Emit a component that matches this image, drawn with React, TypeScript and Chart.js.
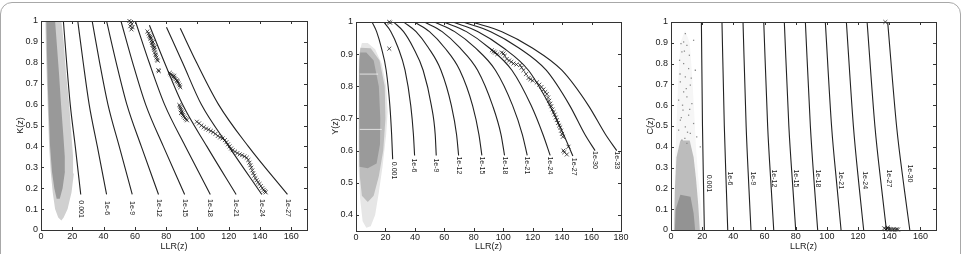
import React, { useEffect, useRef } from "react";
import { Chart, registerables } from "chart.js";
Chart.register(...registerables);

const FONT = "'Liberation Sans', Arial, Helvetica, sans-serif";
const INK = "#1a1a1a";

// ================= Panel 1 : K(z) =================
const P1_LABELS = ["0.001", "1e-6", "1e-9", "1e-12", "1e-15", "1e-18", "1e-21", "1e-24", "1e-27"];
const P1_TOP_Y = [1, 1, 1, 1, 1, 1, 0.98, 0.97, 0.965];
const P1_LEVELS_Y = [0.8, 0.6, 0.4, 0.17];
const P1_CURVES_X = [
  [14.3, 16.4, 18.7, 21.9, 25.4],
  [23.5, 27.0, 30.8, 36.0, 41.9],
  [32.7, 37.5, 42.8, 50.0, 58.3],
  [41.9, 48.1, 54.9, 64.1, 75.1],
  [51.1, 58.6, 66.9, 78.2, 91.8],
  [60.3, 69.2, 79.0, 92.3, 108.2],
  [69.3, 79.0, 90.5, 106.0, 124.7],
  [80.2, 90.5, 102.5, 120.0, 141.1],
  [89.0, 99.5, 113.5, 132.5, 157.5],
];
const P1_LABEL_X = [25.4, 41.9, 58.3, 75.1, 91.8, 108.2, 124.7, 141.1, 157.5];
const P1_LABEL_Y = [0.1, 0.105, 0.105, 0.105, 0.105, 0.105, 0.105, 0.105, 0.105];
const P1_MARK_X = [
  56.5, 57.5, 58, 57, 58.5, 57.8,
  68, 68.8, 69.2, 69.8, 70, 70.6, 70.9, 71.2, 71.8, 72, 72.4, 72.8, 73.1, 73.5, 73.8, 74.2, 74.6, 70.2, 71.5, 72.6,
  75, 75.3,
  82.3, 83, 83.8, 84.6, 85.3, 86, 86.8, 87.4, 88, 88.6, 89, 85, 87,
  88.4, 88.8, 89.2, 89.6, 90, 90.4, 90.8, 91.3, 92, 92.7, 93.3, 89.5,
  99.6, 101, 102.5, 104, 105.5, 107, 108.5, 110, 111.5, 113, 114.5, 116, 117.5, 118.5, 119.5, 120.5, 121.5, 122.5,
  124, 125.5, 127, 128.5, 130, 131.5, 132.5, 133.2, 133.8, 134.4, 135, 135.6, 136.3, 137, 137.8, 138.7, 139.6,
  140.5, 141.4, 142.3, 143, 143.6,
];
const P1_MARK_Y = [
  1.0, 0.995, 0.985, 0.975, 0.97, 0.96,
  0.95, 0.94, 0.93, 0.925, 0.915, 0.905, 0.895, 0.885, 0.88, 0.87, 0.862, 0.85, 0.84, 0.835, 0.825, 0.815, 0.81, 0.92, 0.9, 0.875,
  0.765, 0.76,
  0.752, 0.745, 0.74, 0.733, 0.728, 0.722, 0.716, 0.708, 0.7, 0.692, 0.683, 0.738, 0.712,
  0.598, 0.59, 0.582, 0.574, 0.566, 0.558, 0.55, 0.543, 0.536, 0.53, 0.525, 0.56,
  0.518, 0.51, 0.5, 0.492, 0.485, 0.48, 0.474, 0.468, 0.46, 0.45, 0.443, 0.438, 0.43, 0.42, 0.41, 0.4, 0.39, 0.382,
  0.375, 0.368, 0.362, 0.358, 0.352, 0.346, 0.335, 0.322, 0.31, 0.298, 0.285, 0.272, 0.26, 0.248, 0.238, 0.228, 0.22,
  0.21, 0.2, 0.192, 0.185, 0.18,
];
const P1_CLOUD_OUTER_X = [2.8, 3.2, 3.8, 4.5, 5.2, 6.2, 7.5, 9.0, 11.0, 13.0, 14.5, 17.0, 19.5, 21.0, 20.5, 19.5, 18.0, 16.0, 14.5, 13.0];
const P1_CLOUD_OUTER_Y = [1.0, 0.85, 0.7, 0.55, 0.4, 0.28, 0.18, 0.1, 0.06, 0.045, 0.06, 0.1, 0.18, 0.27, 0.35, 0.45, 0.6, 0.75, 0.9, 1.0];
const P1_CLOUD_CORE_X = [3.4, 3.8, 4.3, 5.0, 5.8, 7.0, 8.5, 10.0, 12.0, 13.8, 15.3, 15.2, 14.3, 12.8, 11.5, 10.0, 9.0];
const P1_CLOUD_CORE_Y = [1.0, 0.85, 0.7, 0.55, 0.4, 0.28, 0.2, 0.15, 0.15, 0.2, 0.28, 0.35, 0.45, 0.6, 0.75, 0.9, 1.0];

// ================= Panel 2 : Y(z) =================
const P2_LABELS = ["0.001", "1e-6", "1e-9", "1e-12", "1e-15", "1e-18", "1e-21", "1e-24", "1e-27", "1e-30", "1e-33"];
const P2_LEVELS_Y = [1, 0.97, 0.92, 0.85, 0.74, 0.65];
const P2_END_Y = [0.573, 0.585, 0.585, 0.585, 0.585, 0.585, 0.585, 0.585, 0.583, 0.6, 0.6];
const P2_CURVES_X = [
  [10.9, 14.0, 17.2, 20.5, 23.0, 24.2, 24.9],
  [18.8, 23.7, 28.6, 33.3, 37.2, 39.0, 39.8],
  [25.6, 32.3, 38.9, 45.6, 51.2, 53.8, 54.5],
  [32.4, 40.8, 49.2, 57.7, 64.8, 68.3, 69.7],
  [39.6, 49.9, 60.2, 70.5, 79.2, 83.5, 85.5],
  [46.4, 58.5, 70.5, 82.6, 92.8, 98.5, 100.9],
  [53.2, 67.0, 80.9, 94.7, 106.4, 113.0, 116.3],
  [59.5, 75.0, 90.4, 105.9, 119.0, 127.0, 131.9],
  [65.8, 82.9, 100.0, 117.1, 131.6, 141.0, 147.3],
  [72.6, 91.5, 110.4, 129.2, 145.2, 155.5, 162.4],
  [78.7, 99.1, 119.5, 139.8, 157.9, 169.5, 177.1],
];
const P2_LABEL_X = [25.9, 39.6, 54.5, 69.7, 85.5, 100.9, 116.3, 131.9, 148.0, 162.4, 177.1];
const P2_LABEL_Y = [0.538, 0.554, 0.554, 0.554, 0.554, 0.554, 0.554, 0.554, 0.55, 0.571, 0.57];
const P2_MARK_X = [
  22.6, 23.2, 22.6,
  92.3, 93.5, 94.5, 96, 99, 100.2, 101, 102.4, 104, 105.5, 107, 109, 111.5, 112.5, 113.8, 115.5, 117.2, 118.5, 120,
  122.8, 124.5, 126, 127.3, 128.5, 129.6, 130.5, 131.2, 131.9, 132.6, 133.4, 134.2, 135, 135.7, 136.4, 137.2, 138,
  138.7, 139.3, 139.9, 140.5, 140.9, 141.5, 143.2, 144.3,
];
const P2_MARK_Y = [
  1.0, 0.998, 0.917,
  0.912, 0.908, 0.905, 0.9, 0.905, 0.902, 0.895, 0.885, 0.88, 0.876, 0.871, 0.868, 0.866, 0.858, 0.85, 0.838, 0.826, 0.822, 0.818,
  0.812, 0.805, 0.798, 0.79, 0.782, 0.776, 0.765, 0.755, 0.746, 0.738, 0.728, 0.72, 0.712, 0.703, 0.695, 0.686, 0.678,
  0.672, 0.662, 0.652, 0.643, 0.6, 0.595, 0.588, 0.612,
];
const P2_CLOUD_FAINT_X = [4.0, 2.0, 1.6, 1.8, 2.8, 4.5, 7.0, 10.0, 13.0, 15.5, 18.0, 20.5, 21.5, 20.5, 17.5, 13.0, 8.0];
const P2_CLOUD_FAINT_Y = [0.935, 0.9, 0.75, 0.55, 0.45, 0.38, 0.36, 0.365, 0.4, 0.47, 0.55, 0.65, 0.72, 0.8, 0.87, 0.915, 0.935];
const P2_CLOUD_MID_X = [3.0, 2.0, 2.0, 2.6, 4.0, 8.0, 12.0, 15.5, 18.5, 20.0, 19.5, 16.0, 10.0];
const P2_CLOUD_MID_Y = [0.92, 0.88, 0.62, 0.52, 0.46, 0.44, 0.46, 0.52, 0.6, 0.7, 0.8, 0.88, 0.918];
const P2_CLOUD_CORE_X = [2.8, 2.2, 2.2, 2.6, 8.0, 14.0, 16.3, 16.5, 15.5, 12.0, 7.0];
const P2_CLOUD_CORE_Y = [0.905, 0.85, 0.6, 0.55, 0.545, 0.56, 0.62, 0.7, 0.8, 0.88, 0.905];
const P2_GAPS_Y = [0.838, 0.666];
const P2_GAPS_X1 = [15, 17.5];

// ================= Panel 3 : C(z) =================
const P3_LABELS = ["0.001", "1e-6", "1e-9", "1e-12", "1e-15", "1e-18", "1e-21", "1e-24", "1e-27", "1e-30"];
const P3_LEVELS_Y = [1, 0.5, 0.2, 0];
const P3_CURVES_X = [
  [19.5, 20.2, 20.9, 21.4],
  [32.7, 34.2, 35.5, 36.4],
  [46.2, 48.2, 50.0, 51.3],
  [59.5, 62.0, 64.3, 65.9],
  [72.7, 75.6, 78.2, 80.0],
  [86.2, 89.4, 92.1, 94.1],
  [99.0, 103.0, 106.6, 109.1],
  [112.5, 117.0, 120.8, 123.6],
  [125.8, 130.8, 135.1, 138.2],
  [139.0, 144.7, 149.6, 153.2],
];
const P3_LABEL_X = [24.6, 38.1, 52.6, 66.3, 80.2, 94.1, 109.1, 124.7, 139.7, 153.6];
const P3_LABEL_Y = [0.224, 0.248, 0.248, 0.248, 0.248, 0.248, 0.24, 0.24, 0.248, 0.272];
const P3_MARK_X = [137.5, 136.8, 137.8, 138.8, 139.8, 140.8, 141.8, 142.8, 143.8, 144.8, 145.6, 139];
const P3_MARK_Y = [1.0, 0.008, 0.004, 0.006, 0.003, 0.004, 0.002, 0.003, 0.002, 0.003, 0.002, 0.012];
const P3_CLOUD_FAINT_X = [1.5, 20.5, 19.5, 17.5, 16.0, 15.0, 13.5, 12.0, 9.0, 6.0, 4.5, 3.5, 2.5, 1.8];
const P3_CLOUD_FAINT_Y = [0.0, 0.0, 0.1, 0.25, 0.4, 0.55, 0.75, 0.9, 0.96, 0.9, 0.7, 0.5, 0.3, 0.1];
const P3_CLOUD_MID_X = [2.0, 18.5, 17.5, 16.0, 14.5, 12.0, 6.0, 3.5, 2.5];
const P3_CLOUD_MID_Y = [0.0, 0.0, 0.12, 0.25, 0.35, 0.43, 0.43, 0.35, 0.2];
const P3_CLOUD_CORE_X = [2.5, 15.5, 14.5, 12.5, 6.0, 3.0];
const P3_CLOUD_CORE_Y = [0.0, 0.0, 0.08, 0.16, 0.17, 0.1];
const P3_DOTS_X = [9.2, 8.1, 6.4, 10.2, 14.5, 7.0, 5.5, 8.1, 11.3, 15.6, 9.2, 6.0, 12.4, 8.1, 10.2, 4.9, 13.4, 7.7, 11.3, 6.0, 14.5, 9.2, 4.9, 12.4, 16.5, 18.8, 7.0, 10.2, 8.6, 11.8, 5.8, 13.0, 9.8, 7.4, 12.0, 6.6, 10.6, 8.9];
const P3_DOTS_Y = [0.944, 0.904, 0.896, 0.888, 0.912, 0.856, 0.816, 0.8, 0.776, 0.768, 0.736, 0.712, 0.696, 0.664, 0.64, 0.624, 0.608, 0.576, 0.552, 0.528, 0.512, 0.496, 0.48, 0.464, 0.448, 0.4, 0.432, 0.416, 0.86, 0.84, 0.75, 0.73, 0.68, 0.6, 0.58, 0.54, 0.47, 0.44];

// ================= helpers =================
const pts = (xs: number[], ys: number[]) => xs.map((x, i) => ({ x, y: ys[i] }));

const curveSet = (xs: number[], ys: number[]) => ({
  data: pts(xs, ys),
  borderColor: "#222",
  borderWidth: 1.1,
  pointRadius: 0,
  fill: false,
  cubicInterpolationMode: "monotone",
});
const markSet = (xs: number[], ys: number[]) => ({
  data: pts(xs, ys),
  showLine: false,
  pointStyle: "crossRot",
  pointRadius: 2.8,
  pointBorderWidth: 0.9,
  pointBorderColor: "rgba(15,15,15,0.8)",
  pointBackgroundColor: "rgba(0,0,0,0)",
  borderColor: "rgba(15,15,15,0.8)",
  clip: false,
});
const cloudSet = (xs: number[], ys: number[], color: string) => ({
  data: pts(xs, ys),
  borderWidth: 0,
  borderColor: "rgba(0,0,0,0)",
  pointRadius: 0,
  backgroundColor: color,
  fill: "shape",
  tension: 0,
});
const dotSet = (xs: number[], ys: number[]) => ({
  data: pts(xs, ys),
  showLine: false,
  pointStyle: "rect",
  pointRadius: 0.9,
  pointBorderWidth: 0,
  pointBackgroundColor: "#8a8a8a",
});
const hLineSet = (y: number, x0: number, x1: number) => ({
  data: [{ x: x0, y }, { x: x1, y }],
  borderColor: "rgba(255,255,255,0.7)",
  borderWidth: 1,
  pointRadius: 0,
  fill: false,
});

const matlabAxes = {
  id: "matlabAxes",
  afterDatasetsDraw(chart: any) {
    const { ctx, chartArea: a, scales } = chart;
    const xs = scales.x, ys = scales.y;
    ctx.save();
    ctx.strokeStyle = "#333";
    ctx.lineWidth = 1;
    ctx.beginPath();
    for (const t of xs.ticks) {
      const p = Math.round(xs.getPixelForValue(t.value)) + 0.5;
      ctx.moveTo(p, a.bottom); ctx.lineTo(p, a.bottom - 3);
      ctx.moveTo(p, a.top); ctx.lineTo(p, a.top + 3);
    }
    for (const t of ys.ticks) {
      const p = Math.round(ys.getPixelForValue(t.value)) + 0.5;
      ctx.moveTo(a.left, p); ctx.lineTo(a.left + 3, p);
      ctx.moveTo(a.right, p); ctx.lineTo(a.right - 3, p);
    }
    ctx.stroke();
    ctx.strokeRect(Math.round(a.left) + 0.5, Math.round(a.top) + 0.5, Math.round(a.right - a.left), Math.round(a.bottom - a.top));
    ctx.restore();
  },
};

const labelPlugin = (texts: string[], lx: number[], ly: number[]) => ({
  id: "curveLabels",
  afterDatasetsDraw(chart: any) {
    const { ctx, scales } = chart;
    ctx.save();
    ctx.fillStyle = INK;
    ctx.font = `7px ${FONT}`;
    ctx.textAlign = "center";
    ctx.textBaseline = "middle";
    texts.forEach((t, i) => {
      const px = scales.x.getPixelForValue(lx[i]);
      const py = scales.y.getPixelForValue(ly[i]);
      ctx.save();
      ctx.translate(px, py);
      ctx.rotate(Math.PI / 2);
      ctx.fillText(t, 0, 0);
      ctx.restore();
    });
    ctx.restore();
  },
});

type Spec = {
  datasets: any[];
  xMax: number;
  yMin: number;
  yTitle: string;
  padTop: number;
  padRight: number;
  xHeight: number;
  labels: any;
};

function buildSpecs(): Spec[] {
  const p1: any[] = [markSet(P1_MARK_X, P1_MARK_Y)];
  P1_CURVES_X.forEach((xs, i) => p1.push(curveSet(xs, [P1_TOP_Y[i], ...P1_LEVELS_Y])));
  p1.push(cloudSet(P1_CLOUD_CORE_X, P1_CLOUD_CORE_Y, "#999999"));
  p1.push(cloudSet(P1_CLOUD_OUTER_X, P1_CLOUD_OUTER_Y, "#d0d0d0"));

  const p2: any[] = [markSet(P2_MARK_X, P2_MARK_Y)];
  P2_CURVES_X.forEach((xs, i) => p2.push(curveSet(xs, [...P2_LEVELS_Y, P2_END_Y[i]])));
  P2_GAPS_Y.forEach((y, i) => p2.push(hLineSet(y, 2.5, P2_GAPS_X1[i])));
  p2.push(cloudSet(P2_CLOUD_CORE_X, P2_CLOUD_CORE_Y, "#9a9a9a"));
  p2.push(cloudSet(P2_CLOUD_MID_X, P2_CLOUD_MID_Y, "#bdbdbd"));
  p2.push(cloudSet(P2_CLOUD_FAINT_X, P2_CLOUD_FAINT_Y, "#e6e6e6"));

  const p3: any[] = [markSet(P3_MARK_X, P3_MARK_Y)];
  P3_CURVES_X.forEach((xs) => p3.push(curveSet(xs, P3_LEVELS_Y)));
  p3.push(dotSet(P3_DOTS_X, P3_DOTS_Y));
  p3.push(cloudSet(P3_CLOUD_CORE_X, P3_CLOUD_CORE_Y, "#939393"));
  p3.push(cloudSet(P3_CLOUD_MID_X, P3_CLOUD_MID_Y, "#bcbcbc"));
  p3.push(cloudSet(P3_CLOUD_FAINT_X, P3_CLOUD_FAINT_Y, "#f6f6f6"));

  return [
    { datasets: p1, xMax: 170, yMin: 0, yTitle: "K(z)", padTop: 21, padRight: 8, xHeight: 24, labels: labelPlugin(P1_LABELS, P1_LABEL_X, P1_LABEL_Y) },
    { datasets: p2, xMax: 180, yMin: 0.35, yTitle: "Y(z)", padTop: 22, padRight: 9, xHeight: 23, labels: labelPlugin(P2_LABELS, P2_LABEL_X, P2_LABEL_Y) },
    { datasets: p3, xMax: 170, yMin: 0, yTitle: "C(z)", padTop: 22, padRight: 9, xHeight: 24, labels: labelPlugin(P3_LABELS, P3_LABEL_X, P3_LABEL_Y) },
  ];
}

const fmt = (v: any) => String(Number(Number(v).toFixed(2)));

function Panel({ spec, left }: { spec: Spec; left: number }) {
  const ref = useRef<HTMLCanvasElement>(null);
  useEffect(() => {
    if (!ref.current) return;
    const tickFont = { family: FONT, size: 9 };
    const chart = new Chart(ref.current, {
      type: "line",
      data: { datasets: spec.datasets },
      options: {
        animation: false,
        responsive: false,
        maintainAspectRatio: false,
        devicePixelRatio: 1,
        events: [],
        layout: { padding: { top: spec.padTop, right: spec.padRight, bottom: 0, left: 0 } },
        plugins: { legend: { display: false }, tooltip: { enabled: false } },
        scales: {
          x: {
            type: "linear",
            min: 0,
            max: spec.xMax,
            grid: { display: false, drawTicks: false },
            border: { display: false },
            ticks: { stepSize: 20, includeBounds: false, font: tickFont, color: INK, padding: 1, maxRotation: 0, autoSkip: false, callback: fmt },
            title: { display: true, text: "LLR(z)", font: tickFont, color: INK, padding: { top: 0, bottom: 2 } },
            afterFit: (s: any) => { s.height = spec.xHeight; },
          },
          y: {
            type: "linear",
            min: spec.yMin,
            max: 1,
            grid: { display: false, drawTicks: false },
            border: { display: false },
            ticks: { stepSize: 0.1, includeBounds: false, font: tickFont, color: INK, padding: 3, autoSkip: false, callback: fmt },
            title: { display: true, text: spec.yTitle, font: tickFont, color: INK, padding: { top: 15, bottom: 0 } },
            afterFit: (s: any) => { s.width = 41; },
          },
        },
      } as any,
      plugins: [matlabAxes, spec.labels],
    } as any);
    return () => chart.destroy();
  }, [spec]);
  return (
    <canvas
      ref={ref}
      width={315}
      height={254}
      style={{ position: "absolute", left, top: 0, width: 315, height: 254 }}
    />
  );
}

const SPECS = buildSpecs();

export default function App() {
  return (
    <div style={{ position: "fixed", left: 0, top: 0, width: 963, height: 254, background: "#fff", overflow: "hidden" }}>
      <div
        style={{
          position: "absolute",
          left: 0,
          top: 2,
          width: 961,
          height: 280,
          border: "1px solid #a8a8a8",
          borderRadius: 12,
          boxSizing: "border-box",
        }}
      />
      <Panel spec={SPECS[0]} left={0} />
      <Panel spec={SPECS[1]} left={315} />
      <Panel spec={SPECS[2]} left={630} />
    </div>
  );
}
